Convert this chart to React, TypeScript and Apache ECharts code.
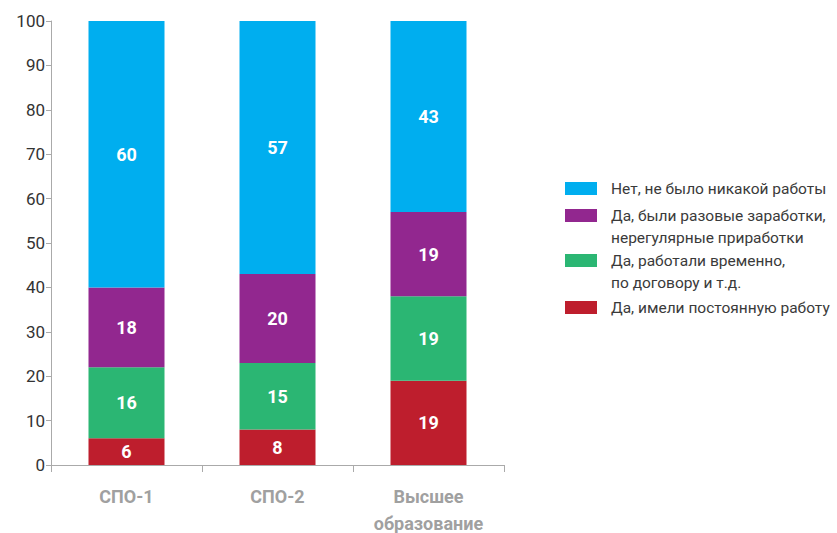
import React, { useEffect, useRef } from "react";
import * as echarts from "echarts";

const categories = ["СПО-1", "СПО-2", "Высшее\nобразование"];
const seriesNames = [
  "Да, имели постоянную работу",
  "Да, работали временно,\nпо договору и т.д.",
  "Да, были разовые заработки,\nнерегулярные приработки",
  "Нет, не было никакой работы",
];
const seriesColors = ["#BE1E2D", "#2BB673", "#92278F", "#00AEEF"];
const permanent = [6, 8, 19];
const temporary = [16, 15, 19];
const occasional = [18, 20, 19];
const noWork = [60, 57, 43];
const seriesValues = [permanent, temporary, occasional, noWork];
const yTicks = { min: 0, max: 100, interval: 10 };

const FONT = "Roboto, 'Liberation Sans', sans-serif";

export default function App() {
  const ref = useRef<HTMLDivElement>(null);
  useEffect(() => {
    if (!ref.current) return;
    const chart = echarts.init(ref.current, undefined, { renderer: "svg" });
    const legendOrder = [3, 2, 1, 0];
    const legendTops = [188.5, 215.5, 260.5, 307.5];
    const graphic: any[] = [];
    legendOrder.forEach((si, k) => {
      const cy = legendTops[k];
      graphic.push({
        type: "rect",
        left: 565,
        top: cy - 6.5,
        shape: { width: 32, height: 13 },
        style: { fill: seriesColors[si] },
      });
      graphic.push({
        type: "text",
        left: 611,
        top: cy - 11,
        style: {
          text: seriesNames[si],
          fill: "#3a3a3a",
          font: `15.5px ${FONT}`,
          lineHeight: 22,
        },
      });
    });
    chart.setOption({
      animation: false,
      textStyle: { fontFamily: FONT },
      grid: {
        left: 51,
        top: 21,
        right: 333,
        bottom: 68,
        containLabel: false,
        outerBoundsMode: "none",
      },
      xAxis: {
        type: "category",
        data: categories,
        axisLine: { lineStyle: { color: "#aaaaaa", width: 1 } },
        axisTick: { show: true, alignWithLabel: false, length: 7, lineStyle: { color: "#aaaaaa" } },
        axisLabel: {
          interval: 0,
          color: "#a0a0a0",
          fontWeight: "bold",
          fontSize: 18,
          lineHeight: 27,
          margin: 18,
          fontFamily: FONT,
        },
      },
      yAxis: {
        type: "value",
        min: yTicks.min,
        max: yTicks.max,
        interval: yTicks.interval,
        axisLine: { show: true, lineStyle: { color: "#aaaaaa", width: 1 } },
        axisTick: { show: true, length: 5, lineStyle: { color: "#aaaaaa" } },
        splitLine: { show: false },
        axisLabel: { color: "#333333", fontSize: 17, margin: 6, fontFamily: FONT },
      },
      series: seriesValues.map((vals, i) => ({
        type: "bar",
        name: seriesNames[i],
        stack: "total",
        data: vals,
        barWidth: 76,
        itemStyle: { color: seriesColors[i] },
        label: {
          show: true,
          position: "inside",
          color: "#ffffff",
          fontWeight: "bold",
          fontSize: 18,
          fontFamily: FONT,
        },
      })),
      graphic,
    });
    return () => chart.dispose();
  }, []);
  return (
    <div
      ref={ref}
      style={{ position: "absolute", left: 0, top: 0, width: 837, height: 533 }}
    />
  );
}
